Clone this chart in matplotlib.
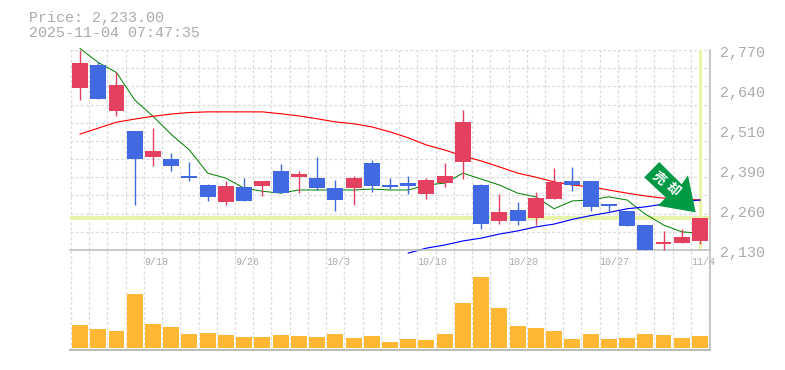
"""
plot.py
-------
Daily candlestick chart with moving averages and a volume pane.
"""

import math
import matplotlib
matplotlib.use("Agg")
import matplotlib.pyplot as plt
from matplotlib.patches import Polygon, Rectangle
from matplotlib.transforms import Affine2D

plt.rcParams["font.family"] = ["Liberation Mono", "DejaVu Sans Mono"]

# ── Data ──────────────────────────────────────────────────────────────────────
opens  = [2648, 2722, 2575, 2511, 2428, 2421, 2367, 2338, 2284, 2332, 2335, 2383,
          2364, 2360, 2328, 2328, 2408, 2338, 2344, 2309, 2344, 2412, 2338, 2223,
          2258, 2232, 2293, 2351, 2351, 2277, 2255, 2210, 2149, 2152, 2159]
closes = [2728, 2613, 2658, 2421, 2447, 2399, 2360, 2300, 2335, 2287, 2351, 2312,
          2373, 2328, 2290, 2360, 2335, 2332, 2335, 2354, 2367, 2540, 2213, 2252,
          2223, 2296, 2348, 2338, 2268, 2271, 2207, 2130, 2156, 2172, 2233]
highs  = [2770, 2732, 2700, 2511, 2520, 2440, 2412, 2341, 2351, 2360, 2351, 2405,
          2383, 2428, 2354, 2367, 2418, 2360, 2367, 2360, 2408, 2578, 2341, 2309,
          2284, 2316, 2392, 2396, 2351, 2277, 2255, 2210, 2191, 2197, 2233]
lows   = [2610, 2613, 2559, 2274, 2399, 2383, 2351, 2287, 2274, 2287, 2303, 2312,
          2312, 2322, 2255, 2274, 2316, 2325, 2309, 2293, 2332, 2357, 2197, 2213,
          2210, 2210, 2293, 2319, 2255, 2252, 2207, 2130, 2130, 2152, 2149]
ma_short = [2775, 2730, 2698, 2610, 2558, 2500, 2450, 2376, 2360, 2328, 2318, 2312,
            2322, 2322, 2322, 2322, 2325, 2322, 2322, 2338, 2344, 2376, 2357, 2338,
            2312, 2300, 2262, 2287, 2290, 2300, 2290, 2245, 2210, 2188, 2184]
ma_mid   = [2501, 2520, 2539, 2549, 2558, 2565, 2570, 2572, 2572, 2572, 2572, 2566,
            2559, 2550, 2540, 2534, 2524, 2508, 2489, 2466, 2450, 2431, 2415, 2396,
            2376, 2363, 2348, 2338, 2332, 2322, 2312, 2303, 2296, 2293, 2290]
ma_long  = [None] * 18 + [2120, 2136, 2146, 2159, 2168, 2181, 2191, 2204, 2213,
                          2228, 2240, 2250, 2262, 2268, 2277, 2284, 2290]
volumes  = [230, 190, 170, 540, 240, 210, 140, 150, 130, 110, 110, 130, 120, 110,
            140, 100, 120, 60, 90, 80, 140, 450, 710, 400, 220, 200, 170, 90, 140,
            90, 100, 140, 130, 100, 120]
date_ticks  = [4, 9, 14, 19, 24, 29, 34]
date_labels = ["9/18", "9/26", "10/3", "10/10", "10/20", "10/27", "11/4"]
price_ticks  = [2130, 2258, 2386, 2514, 2642, 2770]
price_labels = ["2,130", "2,260", "2,390", "2,510", "2,640", "2,770"]
last_price = 2233
title_lines = ["Price: 2,233.00", "2025-11-04 07:47:35"]
signal_chars = ["売", "却"]

# ── Styles ────────────────────────────────────────────────────────────────────
W, H = 785, 370
PX = 72 / 100  # one pixel in points at dpi=100
UP, DOWN = "#E4405F", "#4169E1"
GRID, FRAME, TEXT = "#DDDDDD", "#BBBBBB", "#ABABAB"
PRICE_LINE = "#E6F5AA"
VOL = "#FFB833"
BODY_W = 0.875
DASH = (0, (2.3, 1.6))


def pane(top, bottom):
    """Axes covering x 70-710 px and the given pixel rows (from the top)."""
    return fig.add_axes([70 / W, 1 - bottom / H, 640 / W, (bottom - top) / H])


def style_pane(ax):
    ax.set_xlim(-0.55, 34.55)
    ax.set_xticks([i - 0.5 for i in range(36)])
    ax.set_yticks([])
    ax.tick_params(length=0, labelbottom=False, labelleft=False)
    ax.grid(True, axis="x", color=GRID, lw=1.3 * PX, ls=DASH)
    ax.set_axisbelow(True)
    ax.patch.set_alpha(0)
    for side in ("left", "top"):
        ax.spines[side].set_visible(False)
    for side in ("right", "bottom"):
        ax.spines[side].set_color(FRAME)
        ax.spines[side].set_linewidth(1.5 * PX)


fig = plt.figure(figsize=(W / 100, H / 100), dpi=100)

# ── Price pane ────────────────────────────────────────────────────────────────
ax = pane(50, 250)
style_pane(ax)
ax.set_ylim(2130, 2770)
for k in range(11):
    ax.axhline(2770 - k * 640 / 11, color=GRID, lw=1.3 * PX, ls=DASH, zorder=0.5)

ax.axhline(last_price, color=PRICE_LINE, lw=4 * PX, zorder=1)
ax.axvline(34, ymin=0.01, color=PRICE_LINE, lw=3 * PX, zorder=1)

xs = range(len(closes))
ax.plot(xs, ma_short, color="#008000", lw=1.0 * PX, zorder=2, clip_on=False)
ax.plot(xs, ma_mid, color="#FF0000", lw=1.15 * PX, zorder=2)
ax.plot(xs, [float("nan") if v is None else v for v in ma_long],
        color="#0000FF", lw=1.15 * PX, zorder=2, clip_on=False)

for i, (o, c, hi, lo) in enumerate(zip(opens, closes, highs, lows)):
    col = UP if c > o else DOWN
    ax.vlines(i, lo, hi, color=col, lw=1.4 * PX, zorder=3, clip_on=False)
    ax.add_patch(Rectangle((i - BODY_W / 2, min(o, c)), BODY_W, abs(c - o),
                           facecolor=col, edgecolor="none", zorder=3))

# Arrow signal, offsets in pixels from its tip (y up)
arrow = [(-36.4, 50.3), (-14, 28), (-7.7, 37), (0, 0), (-38, 6.6), (-29.7, 14.6), (-51.4, 35)]
last_x, last_y = ax.transData.transform((34, last_price))
tip_x, tip_y = last_x - 4.3, last_y + 5.5
fig.add_artist(Polygon(arrow, closed=True, facecolor="#009944", edgecolor="none",
                       transform=Affine2D().translate(tip_x, tip_y), zorder=5))
for side, char in zip((-1, 1), signal_chars):
    gx = tip_x - 29.7 + side * 8.8 * math.cos(math.radians(40))
    gy = tip_y + 28.8 - side * 8.8 * math.sin(math.radians(40))
    fig.text(gx / W, gy / H, char, color="white", fontsize=9.5, rotation=-40,
             ha="center", va="center", weight="bold", rotation_mode="anchor",
             family=["Noto Sans CJK JP", "DejaVu Sans"], zorder=6)

# Price labels
for val, lab in zip(price_ticks, price_labels):
    y = ax.transData.transform((0, val))[1]
    fig.text(720 / W, (y - 3) / H, lab, color=TEXT, fontsize=10.8, ha="left", va="center")

# Date labels
for i, lab in zip(date_ticks, date_labels):
    ax.annotate(lab, (i - 0.5, 2130), xytext=(0, -5), textcoords="offset points",
                color=TEXT, fontsize=7.2, ha="left", va="top", annotation_clip=False)

# ── Volume pane ───────────────────────────────────────────────────────────────
ax_vol = pane(250, 350)
style_pane(ax_vol)
ax_vol.spines["bottom"].set_linewidth(2 * PX)
ax_vol.set_ylim(-20, 980)
ax_vol.bar(xs, volumes, width=BODY_W, color=VOL, zorder=3)

# ── Title ─────────────────────────────────────────────────────────────────────
fig.text(29 / W, 1 - 18 / H, title_lines[0], color=TEXT, fontsize=10.8, ha="left", va="center")
fig.text(29 / W, 1 - 33 / H, title_lines[1], color=TEXT, fontsize=10.8, ha="left", va="center")

fig.savefig("out.png", dpi=100)
